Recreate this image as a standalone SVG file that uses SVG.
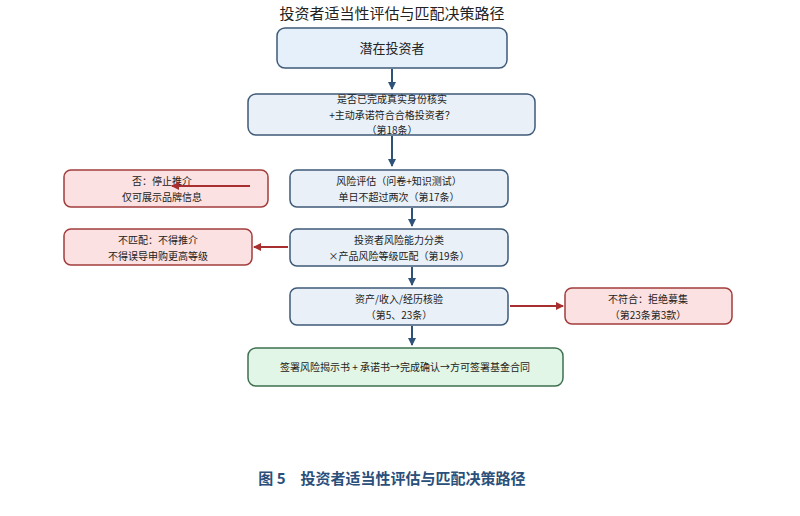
<svg xmlns="http://www.w3.org/2000/svg" width="800" height="516" viewBox="0 0 800 516">
<style>
text{font-family:"Noto Sans CJK SC","Noto Sans",sans-serif;fill:#222;text-anchor:middle}
.t{font-size:10px}
.b{fill:#e6f0fb;stroke:#3e5a78;stroke-width:1.5}
.m{fill:#e9f0f7;stroke:#3e5a78;stroke-width:1.5}
.r{fill:#fbe1e1;stroke:#a33c3c;stroke-width:1.5}
.g{fill:#e1f6e6;stroke:#3e7050;stroke-width:1.5}
.cb{stroke:#2f5378;stroke-width:2;fill:none;marker-end:url(#ab)}
.cr{stroke:#a82f2f;stroke-width:2;fill:none;marker-end:url(#ar)}
</style>
<defs>
<marker id="ab" markerWidth="8" markerHeight="8" refX="7" refY="4" orient="auto" markerUnits="userSpaceOnUse"><path d="M0,0L8,4L0,8z" fill="#2f5378"/></marker>
<marker id="ar" markerWidth="8" markerHeight="8" refX="7" refY="4" orient="auto" markerUnits="userSpaceOnUse"><path d="M0,0L8,4L0,8z" fill="#a82f2f"/></marker>
</defs>
<rect width="800" height="516" fill="#fff"/>
<text x="392" y="19" font-size="15">投资者适当性评估与匹配决策路径</text>
<g id="n1"><rect class="b" x="277" y="28" width="230" height="40" rx="8"/><text x="392" y="53" font-size="13">潜在投资者</text></g>
<g id="n2"><rect class="m" x="248" y="94" width="287" height="41" rx="8"/><text class="t" x="392" y="103">是否已完成真实身份核实</text><text class="t" x="392" y="119">+主动承诺符合合格投资者？</text><text class="t" x="392" y="134">（第18条）</text></g>
<g id="n3"><rect class="m" x="290" y="170" width="218" height="37" rx="7"/><text class="t" x="399" y="185">风险评估（问卷+知识测试）</text><text class="t" x="399" y="201">单日不超过两次（第17条）</text></g>
<g id="n4"><rect class="m" x="290" y="229" width="218" height="37" rx="7"/><text class="t" x="399" y="244">投资者风险能力分类</text><text class="t" x="399" y="260">×产品风险等级匹配（第19条）</text></g>
<g id="n5"><rect class="m" x="290" y="288" width="218" height="37" rx="7"/><text class="t" x="399" y="303">资产/收入/经历核验</text><text class="t" x="399" y="319">（第5、23条）</text></g>
<g id="n6"><rect class="g" x="248" y="348" width="315" height="38" rx="8"/><text class="t" x="405" y="371">签署风险揭示书 + 承诺书→完成确认→方可签署基金合同</text></g>
<g id="r1"><rect class="r" x="64" y="170" width="204" height="37" rx="7"/><text class="t" x="162" y="185">否：停止推介</text><text class="t" x="162" y="201">仅可展示品牌信息</text></g>
<g id="r2"><rect class="r" x="64" y="229" width="188" height="36" rx="7"/><text class="t" x="158" y="244">不匹配：不得推介</text><text class="t" x="158" y="260">不得误导申购更高等级</text></g>
<g id="r3"><rect class="r" x="565" y="288" width="167" height="36" rx="7"/><text class="t" x="648" y="303">不符合：拒绝募集</text><text class="t" x="648" y="319">（第23条第3款）</text></g>
<g id="connectors">
<path class="cb" d="M392 69V89"/>
<path class="cb" d="M392 136V166"/>
<path class="cb" d="M412 208V226"/>
<path class="cb" d="M412 267V285"/>
<path class="cb" d="M412 326V345"/>
<path class="cr" d="M250 186H172"/>
<path class="cr" d="M288 247H254"/>
<path class="cr" d="M510 306H563"/>
</g>
<text x="392" y="484" font-size="15" font-family="'Noto Serif CJK SC','Noto Sans CJK SC',serif" style="fill:#2a4f7a;font-weight:bold">图 5　投资者适当性评估与匹配决策路径</text>
</svg>
